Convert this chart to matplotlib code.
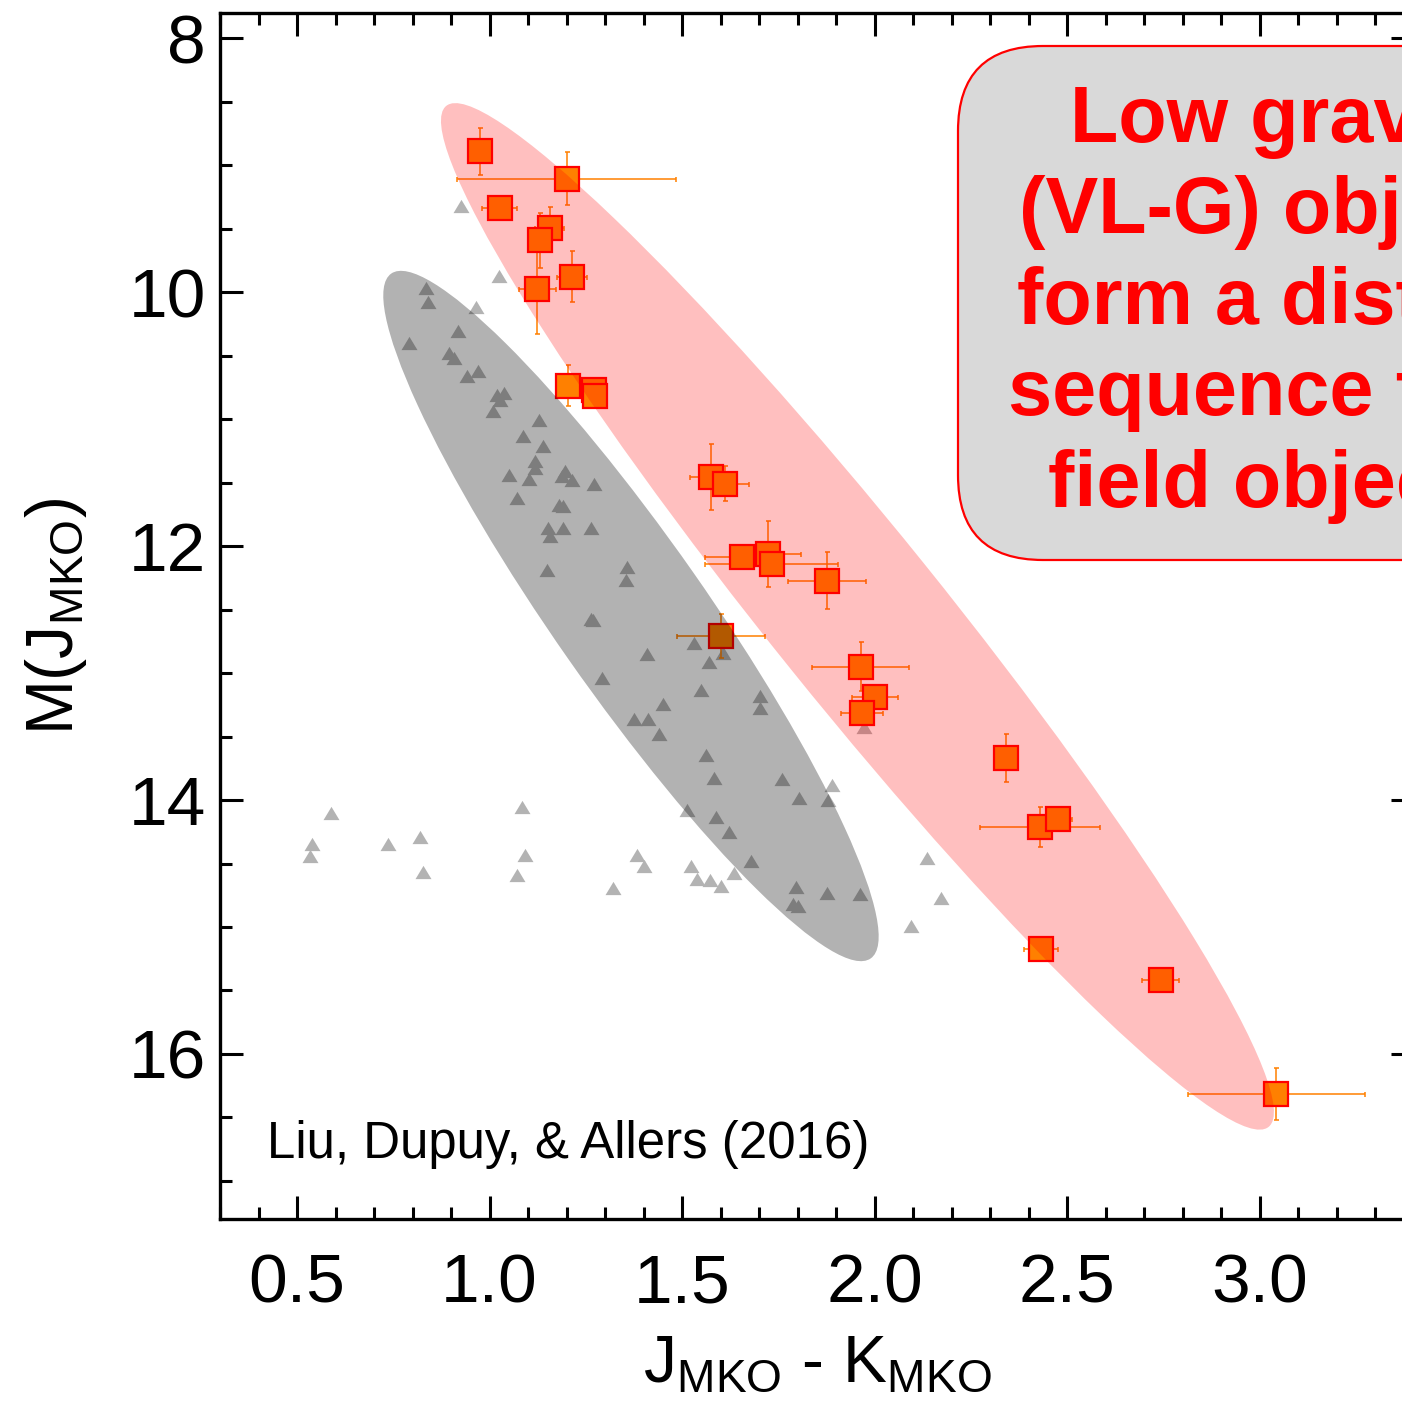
import numpy as np
import matplotlib
matplotlib.use('Agg')
import matplotlib.pyplot as plt
from matplotlib.patches import Ellipse, FancyBboxPatch
from matplotlib.transforms import ScaledTranslation
from matplotlib.ticker import MultipleLocator

plt.rcParams['font.family'] = ['Liberation Sans', 'DejaVu Sans']
plt.rcParams['mathtext.fontset'] = 'custom'
plt.rcParams['mathtext.rm'] = 'Liberation Sans'
plt.rcParams['mathtext.it'] = 'Liberation Sans:italic'
plt.rcParams['mathtext.bf'] = 'Liberation Sans:bold'

# ---------------- data ----------------
# field objects (gray triangles)
field_jk = [0.927, 1.024, 0.836, 0.839, 0.965, 0.791, 0.919, 0.894, 0.908, 0.970,
            0.942, 1.020, 1.037, 1.028, 1.010, 1.128, 1.087, 1.139, 1.117, 1.119,
            1.050, 1.102, 1.197, 1.188, 1.213, 1.271, 1.070, 1.180, 1.190, 1.152,
            1.156, 1.190, 1.264, 1.149, 1.356, 1.353, 1.262, 1.269, 1.530, 1.408,
            1.570, 1.606, 1.291, 1.550, 1.701, 1.701, 1.450, 1.375, 1.411, 1.440,
            1.972, 1.561, 1.582, 1.760, 1.803, 1.888, 1.879, 1.512, 1.587, 1.621,
            1.383, 1.401, 1.522, 1.539, 1.573, 1.600, 1.634, 1.679, 1.320, 1.795,
            1.788, 1.801, 1.877, 1.962, 2.136, 2.171, 2.095, 0.587, 0.539, 0.533,
            0.736, 0.819, 0.826, 1.083, 1.091, 1.070]
field_mj = [9.322, 9.872, 9.965, 10.079, 10.118, 10.397, 10.302, 10.478, 10.517, 10.623,
            10.661, 10.806, 10.793, 10.851, 10.935, 11.004, 11.135, 11.209, 11.332, 11.384,
            11.437, 11.471, 11.410, 11.451, 11.477, 11.510, 11.621, 11.674, 11.687, 11.853,
            11.918, 11.857, 11.853, 12.186, 12.165, 12.265, 12.575, 12.580, 12.764, 12.848,
            12.914, 12.843, 13.040, 13.132, 13.179, 13.276, 13.245, 13.363, 13.361, 13.479,
            13.426, 13.644, 13.823, 13.834, 13.986, 13.881, 13.999, 14.076, 14.137, 14.255,
            14.429, 14.520, 14.522, 14.624, 14.627, 14.677, 14.572, 14.478, 14.693, 14.685,
            14.819, 14.837, 14.735, 14.738, 14.454, 14.769, 14.992, 14.104, 14.348, 14.441,
            14.348, 14.293, 14.564, 14.052, 14.433, 14.590]

# VL-G objects (orange squares)
vlg_jk = [0.974, 1.200, 1.026, 1.156, 1.130, 1.214, 1.124, 1.203, 1.271, 1.273,
          1.576, 1.611, 1.655, 1.724, 1.732, 1.876, 1.601, 1.963, 2.000, 1.967,
          2.341, 2.429, 2.475, 2.432, 2.743, 3.042]
vlg_mj = [8.891, 9.104, 9.340, 9.490, 9.592, 9.876, 9.971, 10.735, 10.767, 10.814,
          11.458, 11.508, 12.084, 12.060, 12.139, 12.273, 12.707, 12.948, 13.185, 13.313,
          13.668, 14.212, 14.147, 15.174, 15.418, 16.317]
vlg_jk_err = [0.020, 0.285, 0.045, 0.037, 0.030, 0.040, 0.048, 0.030, 0.030, 0.030,
              0.055, 0.062, 0.096, 0.084, 0.172, 0.100, 0.114, 0.127, 0.060, 0.055,
              0.020, 0.155, 0.037, 0.045, 0.048, 0.230]
vlg_mj_err = [0.185, 0.210, 0.050, 0.160, 0.220, 0.200, 0.360, 0.160, 0.090, 0.080,
              0.260, 0.140, 0.080, 0.260, 0.080, 0.225, 0.170, 0.190, 0.050, 0.050,
              0.190, 0.160, 0.050, 0.050, 0.050, 0.205]

x_ticks = [0.5, 1.0, 1.5, 2.0, 2.5, 3.0]
y_ticks = [8, 10, 12, 14, 16]
box_lines = ["Low gravity", "(VL-G) objects", "form a distinct", "sequence from", "field objects."]
credit = "Liu, Dupuy, & Allers (2016)"

# ---------------- figure ----------------
W, H = 1402, 1404
fig = plt.figure(figsize=(W / 100, H / 100), dpi=100)
ax = fig.add_axes([220 / W, 1 - 1219 / H, 1194 / W, (1219 - 13) / H])

ax.set_xlim(0.3, 3.4)
ax.set_ylim(17.3, 7.8)

tri = [(-1, -0.83), (1, -0.83), (0, 0.83)]
ax.plot(field_jk, field_mj, linestyle='none', marker=tri, markersize=11.5,
        color='#b3b3b3', markeredgewidth=0, zorder=2)

ax.errorbar(vlg_jk, vlg_mj, xerr=vlg_jk_err, yerr=vlg_mj_err, fmt='none',
            ecolor='#ff8000', elinewidth=1.1, capsize=1.8, capthick=1.1, zorder=3)
ax.plot(vlg_jk, vlg_mj, linestyle='none', marker='s', markersize=17.5,
        markerfacecolor='#ff8000', markeredgecolor='#ff0000', markeredgewidth=1.6,
        zorder=4)

# shaded sequences (sizes in inches, centred on data points)
gray_ell = Ellipse((0, 0), width=8.36, height=1.52, angle=-55.0,
                   facecolor='black', alpha=0.30, edgecolor='none', zorder=5,
                   transform=fig.dpi_scale_trans + ScaledTranslation(1.367, 12.550, ax.transData))
pink_ell = Ellipse((0, 0), width=13.11, height=1.70, angle=-51.15,
                   facecolor='red', alpha=0.25, edgecolor='none', zorder=5,
                   transform=fig.dpi_scale_trans + ScaledTranslation(1.955, 12.553, ax.transData))
ax.add_patch(gray_ell)
ax.add_patch(pink_ell)

ax.text(0.421, 16.82, credit, fontsize=36.7, ha='left', va='baseline', zorder=6)

# axes styling
ax.set_xticks(x_ticks)
ax.set_xticklabels([f"{v:.1f}" for v in x_ticks])
ax.set_yticks(y_ticks)
ax.set_yticklabels([str(v) for v in y_ticks])
ax.xaxis.set_minor_locator(MultipleLocator(0.1))
ax.yaxis.set_minor_locator(MultipleLocator(0.5))
ax.tick_params(which='both', direction='in', top=True, right=True, width=2.2,
               labelsize=50, colors='black')
ax.tick_params(which='major', length=16.5)
ax.tick_params(which='minor', length=8.5)
ax.tick_params(axis='x', which='major', pad=24)
ax.tick_params(axis='y', which='major', pad=10)
for s in ax.spines.values():
    s.set_linewidth(2.4)

ax.set_xlabel(r"J$_\mathrm{MKO}$ - K$_\mathrm{MKO}$", fontsize=47.5)
ax.set_ylabel(r"M(J$_\mathrm{MKO}$)", fontsize=47.5)
ax.xaxis.set_label_coords(0.5, -0.095)
ax.yaxis.set_label_coords(-0.110, 0.5)

# annotation box (figure inches)
box = FancyBboxPatch((9.58, 8.44), 6.48, 5.14,
                     boxstyle="round,pad=0,rounding_size=0.85",
                     facecolor='#d9d9d9', edgecolor='#ff0000', linewidth=1.6,
                     transform=fig.dpi_scale_trans, zorder=10)
fig.add_artist(box)
baselines = [141.7, 233.0, 324.2, 415.5, 506.7]
for line, b in zip(box_lines, baselines):
    fig.text(12.90, (H - b) / 100, line, transform=fig.dpi_scale_trans,
             ha='center', va='baseline', fontsize=57, fontweight='bold',
             color='#ff0000', zorder=11)

fig.savefig('out.png', dpi=100)
